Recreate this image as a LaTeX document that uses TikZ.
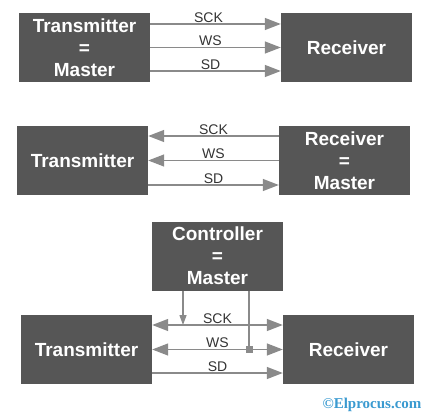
\documentclass[tikz,border=0pt]{standalone}
\usepackage{fontspec}
\setmainfont{Liberation Sans}
\newfontfamily\wmfont{Liberation Serif}
\usetikzlibrary{arrows.meta}
\definecolor{boxgray}{HTML}{565656}
\definecolor{linegray}{HTML}{8A8A8A}
\definecolor{wmblue}{HTML}{3A9AD0}
\tikzset{
  unit/.style={fill=boxgray, text=white, minimum width=131pt, minimum height=69pt, inner sep=0pt, align=center, font=\fontsize{19}{22}\selectfont\bfseries},
  sig/.style={draw=linegray, line width=1.3pt, -{Triangle[length=16pt,width=12pt]}},
  bisig/.style={draw=linegray, line width=1.3pt, {Triangle[length=16pt,width=12pt]}-{Triangle[length=16pt,width=12pt]}},
  lbl/.style={font=\fontsize{14}{14}\selectfont, text=black!80, inner sep=1pt, above}
}
\begin{document}
\begin{tikzpicture}[x=1pt, y=-1pt]
\useasboundingbox (0,0) rectangle (443,419);
% transmitter is master
\node[unit] (tx1) at (84.5,47.5) {Transmitter\\=\\Master};
\node[unit] (rx1) at (346.5,47.5) {Receiver};
\draw[sig] ([yshift=23.5pt]tx1.east) -- node[lbl, xshift=-7pt] {SCK} ([yshift=23.5pt]rx1.west);
\draw[sig] (tx1.east) -- node[lbl, xshift=-5pt] {WS} (rx1.west);
\draw[sig] ([yshift=-23.5pt]tx1.east) -- node[lbl, xshift=-5pt] {SD} ([yshift=-23.5pt]rx1.west);
% receiver is master
\node[unit] (tx2) at (82.5,160.5) {Transmitter};
\node[unit] (rx2) at (344.5,160.5) {Receiver\\=\\Master};
\draw[sig] ([yshift=24.5pt]rx2.west) -- node[lbl] {SCK} ([yshift=24.5pt]tx2.east);
\draw[sig] (rx2.west) -- node[lbl] {WS} (tx2.east);
\draw[sig] ([yshift=-24.5pt]tx2.east) -- node[lbl] {SD} ([yshift=-24.5pt]rx2.west);
% controller is master
\node[unit] (ctl) at (217.5,256) {Controller\\=\\Master};
\node[unit] (tx3) at (86.5,349.5) {Transmitter};
\node[unit] (rx3) at (348.5,349.5) {Receiver};
\draw[bisig] ([yshift=24.5pt]tx3.east) -- node[lbl] {SCK} ([yshift=24.5pt]rx3.west);
\draw[bisig] (tx3.east) -- node[lbl] {WS} (rx3.west);
\draw[sig] ([yshift=-23.5pt]tx3.east) -- node[lbl] {SD} ([yshift=-23.5pt]rx3.west);
% controller taps
\coordinate (sckin) at (183,325);
\coordinate (wsin) at (249,349.5);
\draw[draw=linegray, line width=1.3pt, -{Triangle[length=10pt,width=7pt]}] (ctl.south -| sckin) -- (sckin);
\draw[draw=linegray, line width=1.3pt] (ctl.south -| wsin) -- (wsin);
\fill[linegray] ([xshift=-3.5pt, yshift=-3.5pt]wsin) rectangle ([xshift=3.5pt, yshift=3.5pt]wsin);
% watermark
\node[text=wmblue, font=\wmfont\fontsize{15}{15}\selectfont\bfseries] (wm) at (372,405) {©Elprocus.com};
\end{tikzpicture}
\end{document}
